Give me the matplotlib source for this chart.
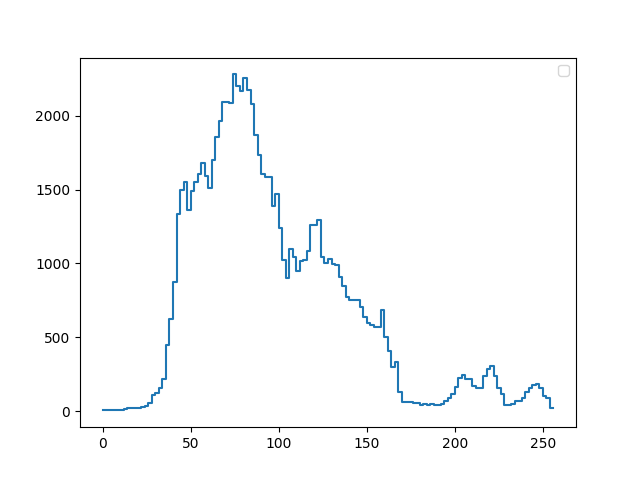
import numpy as np
import matplotlib
matplotlib.use("Agg")
import matplotlib.pyplot as plt

# histogram counts, 128 bins of width 2 over 0..256
counts = [
    5, 9, 5, 5, 10, 5, 16, 23, 23, 23,
    23, 29, 38, 52, 106, 124, 158, 219, 445, 626,
    877, 1338, 1496, 1550, 1365, 1492, 1550, 1609, 1683, 1591,
    1514, 1699, 1853, 1966, 2090, 2090, 2083, 2280, 2199, 2170,
    2253, 2172, 2079, 1867, 1731, 1609, 1582, 1582, 1390, 1467,
    1243, 1024, 904, 1098, 1046, 952, 1019, 1026, 1087, 1261,
    1261, 1297, 1044, 1006, 1033, 997, 990, 909, 848, 773,
    755, 755, 755, 705, 637, 599, 581, 572, 572, 683,
    502, 407, 300, 335, 131, 64, 64, 64, 54, 54,
    41, 50, 41, 50, 41, 41, 50, 68, 90, 118,
    163, 226, 244, 217, 217, 172, 154, 158, 235, 285,
    303, 235, 158, 113, 41, 41, 50, 68, 68, 86,
    131, 158, 176, 185, 158, 104, 90, 23,
]
edges = np.arange(0, 257, 2)

fig, ax = plt.subplots(figsize=(6.4, 4.8), dpi=100)
ax.step(edges, counts + [counts[-1]], where='post')
ax.legend()
fig.savefig("out.png")
